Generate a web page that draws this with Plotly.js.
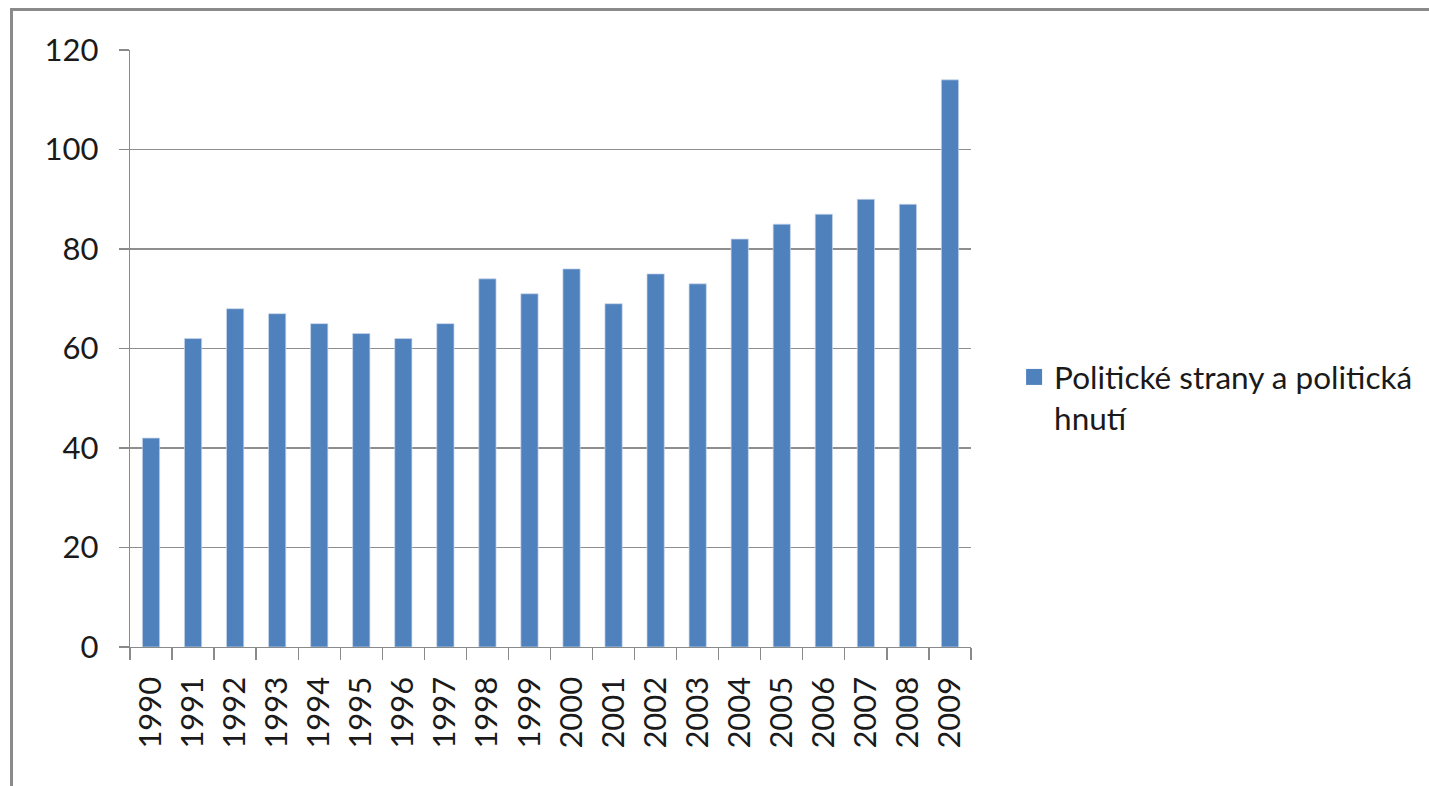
<!DOCTYPE html>
<html>
<head>
<meta charset="utf-8">
<script src="https://cdn.plot.ly/plotly-3.0.1.min.js"></script>
<style>
  html, body { margin: 0; padding: 0; background: #ffffff; overflow: hidden; }
  #chart { position: absolute; left: 0; top: 0; width: 1429px; height: 786px; }
  #frame { position: absolute; left: 10px; top: 8px; width: 1440px; height: 800px;
           border-left: 3px solid #8a8a8a; border-top: 3px solid #8a8a8a; pointer-events: none; }
</style>
</head>
<body>
<div id="chart"></div>
<div id="frame"></div>
<script>
const years = ['1990','1991','1992','1993','1994','1995','1996','1997','1998','1999',
               '2000','2001','2002','2003','2004','2005','2006','2007','2008','2009'];
const values = [42, 62, 68, 67, 65, 63, 62, 65, 74, 71,
                76, 69, 75, 73, 82, 85, 87, 90, 89, 114];
const seriesName = 'Politické strany a politická<br>hnutí';
const yTicks = [0, 20, 40, 60, 80, 100, 120];

const fontFamily = 'Lato, "Open Sans", sans-serif';
const barColor = '#4f81bd';

const trace = {
  type: 'bar',
  x: years,
  y: values,
  name: seriesName,
  legendgroup: 's',
  showlegend: false,
  marker: { color: barColor, line: { color: 'rgba(200,215,235,0.9)', width: 0.8 } },
  hoverinfo: 'x+y'
};

// legend key for the bar series (square swatch, no data of its own)
const legendKey = {
  type: 'scatter',
  mode: 'markers',
  x: [null],
  y: [null],
  name: seriesName,
  legendgroup: 's',
  showlegend: true,
  marker: { symbol: 'square', size: 17, color: barColor, line: { width: 0 } },
  hoverinfo: 'skip'
};

const layout = {
  width: 1429,
  height: 786,
  margin: { l: 130, r: 457, t: 50, b: 139, pad: 0 },
  paper_bgcolor: '#ffffff',
  plot_bgcolor: '#ffffff',
  font: { family: fontFamily, size: 31, color: '#1a1a1a' },
  bargap: 0.59,
  showlegend: true,
  legend: {
    x: 1.05, y: 0.418, xanchor: 'left', yanchor: 'middle',
    valign: 'top',
    itemsizing: 'trace',
    font: { family: fontFamily, size: 31.5, color: '#1a1a1a' },
    bgcolor: 'rgba(0,0,0,0)', borderwidth: 0
  },
  xaxis: {
    type: 'category',
    categoryorder: 'array',
    categoryarray: years,
    tickangle: -90,
    ticks: 'outside',
    tickson: 'boundaries',
    ticklen: 12,
    tickwidth: 1.3,
    tickcolor: '#8a8a8a',
    showline: true,
    linecolor: '#8a8a8a',
    linewidth: 1.3,
    showgrid: false,
    ticklabelstandoff: 16,
    tickfont: { family: fontFamily, size: 31, color: '#1a1a1a' }
  },
  yaxis: {
    range: [0, 120],
    tickvals: yTicks,
    ticktext: yTicks.map(String),
    ticks: 'outside',
    ticklen: 10,
    tickwidth: 1.3,
    tickcolor: '#8a8a8a',
    showline: true,
    linecolor: '#8a8a8a',
    linewidth: 1.3,
    showgrid: true,
    gridcolor: '#8e8e8e',
    gridwidth: 1.3,
    zeroline: false,
    ticklabelstandoff: 14,
    tickfont: { family: fontFamily, size: 31, color: '#1a1a1a' }
  }
};

Plotly.newPlot('chart', [trace, legendKey], layout, { displayModeBar: false, staticPlot: true });
</script>
</body>
</html>
